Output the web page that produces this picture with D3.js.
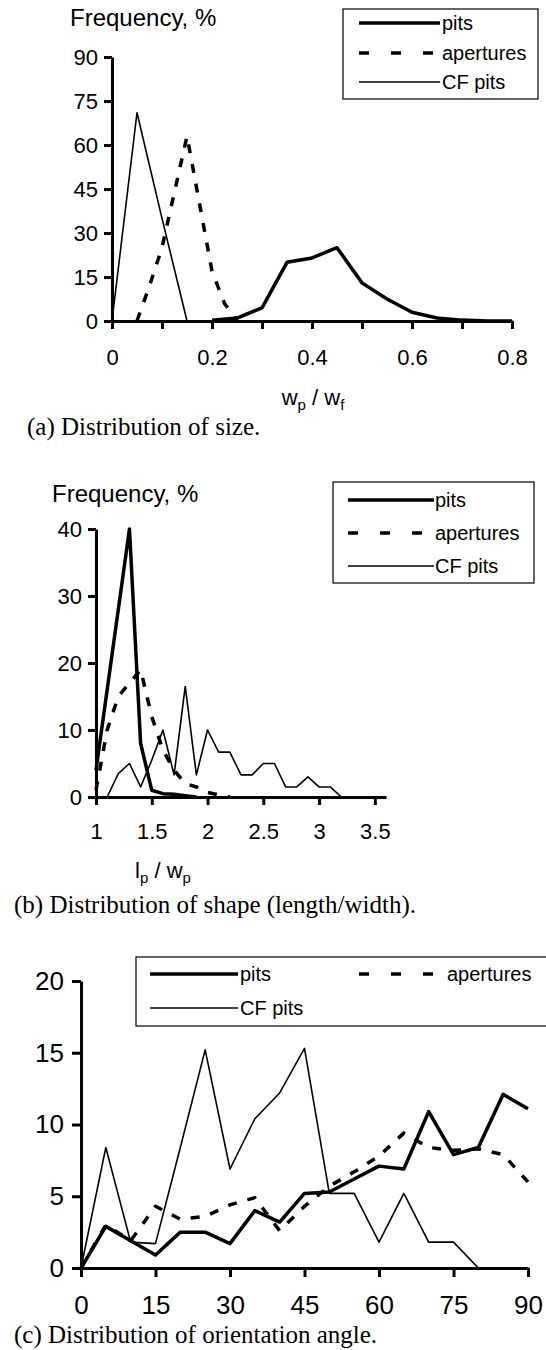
<!DOCTYPE html>
<html>
<head>
<meta charset="utf-8">
<script src="https://cdn.jsdelivr.net/npm/d3@7"></script>
<style>
  body { margin: 0; background: #fff; }
  svg { display: block; }
  .tick text { font-family: "Liberation Sans", Arial, sans-serif; fill: #000; }
</style>
</head>
<body>
<svg id="chart" width="546" height="1350"></svg>
<script>
// (a) size distribution, x = wp / wf
var pitsSizeX = [0.2, 0.25, 0.3, 0.35, 0.4, 0.45, 0.5, 0.55, 0.6, 0.65, 0.7, 0.75, 0.8];
var pitsSizeY = [0.3, 1, 4.5, 20, 21.5, 25, 13, 7.5, 3, 1, 0.3, 0, 0];
var aperturesSizeX = [0.05, 0.075, 0.1, 0.125, 0.15, 0.175, 0.2, 0.225, 0.25];
var aperturesSizeY = [0, 12, 25, 44, 63, 40, 17, 6, 0];
var cfSizeX = [0, 0.05, 0.1, 0.15];
var cfSizeY = [0, 71, 35, 0];
var sizeTicksY = [0, 15, 30, 45, 60, 75, 90];

// (b) shape distribution, x = lp / wp
var pitsShapeX = [1, 1.1, 1.2, 1.3, 1.4, 1.5, 1.6, 1.7, 1.8, 1.9];
var pitsShapeY = [4, 16, 28, 40, 8, 1, 0.5, 0.4, 0.2, 0];
var aperturesShapeX = [1, 1.1, 1.2, 1.3, 1.4, 1.5, 1.6, 1.7, 1.8, 1.9, 2, 2.1, 2.2];
var aperturesShapeY = [1, 10, 15, 17, 19, 12, 7, 4, 2, 1.5, 0.7, 0.3, 0];
var cfShapeX = [1.1, 1.2, 1.3, 1.4, 1.5, 1.6, 1.7, 1.8, 1.9, 2, 2.1, 2.2, 2.3, 2.4, 2.5, 2.6, 2.7, 2.8, 2.9, 3, 3.1, 3.2];
var cfShapeY = [0, 3.5, 5, 1.5, 5.5, 10, 3.3, 16.5, 3.3, 10, 6.7, 6.7, 3.3, 3.3, 5, 5, 1.5, 1.5, 3, 1.5, 1.5, 0];
var shapeTicksX = [1, 1.5, 2, 2.5, 3, 3.5];
var shapeTicksY = [0, 10, 20, 30, 40];

// (c) orientation angle
var angles = [0, 5, 10, 15, 20, 25, 30, 35, 40, 45, 50, 55, 60, 65, 70, 75, 80, 85, 90];
var pitsAngle = [0, 2.9, 1.9, 0.9, 2.5, 2.5, 1.7, 4.0, 3.2, 5.2, 5.3, 6.2, 7.1, 6.9, 10.9, 7.9, 8.4, 12.1, 11.1];
var aperturesAngle = [0, 3.0, 1.9, 4.3, 3.4, 3.6, 4.4, 4.9, 2.6, 4.3, 5.7, 6.7, 7.8, 9.4, 8.4, 8.2, 8.3, 7.9, 6.0];
var cfAngleX = [0, 5, 10, 15, 20, 25, 30, 35, 40, 45, 50, 55, 60, 65, 70, 75, 80];
var cfAngle = [0, 8.4, 1.8, 1.7, 8.4, 15.2, 6.9, 10.4, 12.2, 15.3, 5.2, 5.2, 1.8, 5.2, 1.8, 1.8, 0];
var angleTicksX = [0, 15, 30, 45, 60, 75, 90];
var angleTicksY = [0, 5, 10, 15, 20];

var sans = "'Liberation Sans', Arial, sans-serif";
var serif = "'Liberation Serif', 'Times New Roman', serif";
var svg = d3.select("#chart");

function zip(xs, ys) {
  return xs.map(function(x, i) { return [x, ys[i]]; });
}

var styles = {
  pits: { width: 3.5, dash: null },
  apertures: { width: 3.5, dash: "9,11" },
  cf: { width: 1.6, dash: null }
};

var drawPanel = function(p)
{
  var g = svg.append("g");
  var x = d3.scaleLinear().domain(p.xDomain).range(p.xRange);
  var y = d3.scaleLinear().domain(p.yDomain).range(p.yRange);

  var line = d3.line()
    .x(function(d) { return x(d[0]); })
    .y(function(d) { return y(d[1]); });

  p.series.forEach(function(s) {
    g.append("path")
      .datum(s.data)
      .attr("d", line)
      .attr("fill", "none")
      .attr("stroke", "#000")
      .attr("stroke-width", styles[s.key].width)
      .attr("stroke-dasharray", styles[s.key].dash)
      .attr("stroke-linejoin", "round");
  });

  var xAxis = d3.axisBottom(x)
    .tickValues(p.xTicks)
    .tickSize(p.tickLen)
    .tickSizeOuter(0)
    .tickPadding(p.xPad)
    .tickFormat(p.xFormat);
  var gx = g.append("g")
    .attr("transform", "translate(0," + p.yRange[0] + ")")
    .call(xAxis);

  var yAxis = d3.axisLeft(y)
    .tickValues(p.yTicks)
    .tickSize(p.tickLen)
    .tickSizeOuter(0)
    .tickPadding(p.yPad);
  var gy = g.append("g")
    .attr("transform", "translate(" + p.xRange[0] + ",0)")
    .call(yAxis);

  [gx, gy].forEach(function(a) {
    a.select(".domain").attr("stroke", "#000").attr("stroke-width", 3);
    a.selectAll(".tick line").attr("stroke", "#000").attr("stroke-width", 3);
    a.selectAll(".tick text").attr("font-size", p.fontSize + "px").style("font-family", sans);
  });

  // legend
  var lg = g.append("g");
  lg.append("rect")
    .attr("x", p.legend.x).attr("y", p.legend.y)
    .attr("width", p.legend.w).attr("height", p.legend.h)
    .attr("fill", "#fff").attr("stroke", "#000").attr("stroke-width", 1.2);
  p.legend.items.forEach(function(it) {
    lg.append("line")
      .attr("x1", it.x1).attr("x2", it.x2)
      .attr("y1", it.y).attr("y2", it.y)
      .attr("stroke", "#000")
      .attr("stroke-width", styles[it.key].width)
      .attr("stroke-dasharray", it.key == "apertures" ? "10,22" : null);
    lg.append("text")
      .attr("x", it.tx).attr("y", it.y)
      .attr("dy", "0.35em")
      .attr("font-family", sans)
      .attr("font-size", "20px")
      .text(it.label);
  });

  return g;
}

// ---- panel (a)
var ga = drawPanel({
  xDomain: [0, 0.8], xRange: [112, 512],
  yDomain: [0, 90], yRange: [321, 57],
  xTicks: d3.range(0, 9).map(function(i) { return i / 10; }),
  xFormat: function(d) {
    var k = Math.round(d * 10);
    if (k % 2 != 0) return "";
    return k == 0 ? "0" : d3.format(".1f")(d);
  },
  yTicks: sizeTicksY,
  tickLen: 8, xPad: 20, yPad: 6, fontSize: 22,
  series: [
    { key: "cf", data: zip(cfSizeX, cfSizeY) },
    { key: "apertures", data: zip(aperturesSizeX, aperturesSizeY) },
    { key: "pits", data: zip(pitsSizeX, pitsSizeY) }
  ],
  legend: {
    x: 343, y: 9, w: 195, h: 90,
    items: [
      { key: "pits", label: "pits", x1: 359, x2: 440, tx: 442, y: 23 },
      { key: "apertures", label: "apertures", x1: 359, x2: 433, tx: 442, y: 53 },
      { key: "cf", label: "CF pits", x1: 359, x2: 440, tx: 442, y: 82 }
    ]
  }
});

// ---- panel (b)
var gb = drawPanel({
  xDomain: [1, 3.6], xRange: [96, 386],
  yDomain: [0, 40], yRange: [797, 529],
  xTicks: shapeTicksX,
  xFormat: function(d) { return d; },
  yTicks: shapeTicksY,
  tickLen: 8, xPad: 18, yPad: 6, fontSize: 22,
  series: [
    { key: "cf", data: zip(cfShapeX, cfShapeY) },
    { key: "apertures", data: zip(aperturesShapeX, aperturesShapeY) },
    { key: "pits", data: zip(pitsShapeX, pitsShapeY) }
  ],
  legend: {
    x: 333, y: 482, w: 201, h: 101,
    items: [
      { key: "pits", label: "pits", x1: 348, x2: 434, tx: 435, y: 500 },
      { key: "apertures", label: "apertures", x1: 348, x2: 422, tx: 435, y: 533 },
      { key: "cf", label: "CF pits", x1: 348, x2: 434, tx: 435, y: 566 }
    ]
  }
});

// ---- panel (c)
var gc = drawPanel({
  xDomain: [0, 90], xRange: [81, 528],
  yDomain: [0, 20], yRange: [1268, 981],
  xTicks: angleTicksX,
  xFormat: function(d) { return d; },
  yTicks: angleTicksY,
  tickLen: 9, xPad: 19, yPad: 8, fontSize: 26,
  series: [
    { key: "cf", data: zip(cfAngleX, cfAngle) },
    { key: "apertures", data: zip(angles, aperturesAngle) },
    { key: "pits", data: zip(angles, pitsAngle) }
  ],
  legend: {
    x: 136, y: 957, w: 430, h: 69,
    items: [
      { key: "pits", label: "pits", x1: 150, x2: 238, tx: 240, y: 974 },
      { key: "apertures", label: "apertures", x1: 359, x2: 433, tx: 447, y: 974 },
      { key: "cf", label: "CF pits", x1: 150, x2: 238, tx: 240, y: 1008 }
    ]
  }
});

// titles and captions
svg.append("text").attr("x", 70).attr("y", 26)
  .attr("font-family", sans).attr("font-size", "24px").text("Frequency, %");
svg.append("text").attr("x", 52).attr("y", 502)
  .attr("font-family", sans).attr("font-size", "24px").text("Frequency, %");

var ta = svg.append("text").attr("x", 313).attr("y", 405)
  .attr("text-anchor", "middle").attr("font-family", sans).attr("font-size", "22px");
ta.append("tspan").text("w");
ta.append("tspan").attr("font-size", "15px").attr("dy", 5).text("p");
ta.append("tspan").attr("dy", -5).text(" / w");
ta.append("tspan").attr("font-size", "15px").attr("dy", 5).text("f");

var tb = svg.append("text").attr("x", 163).attr("y", 878)
  .attr("text-anchor", "middle").attr("font-family", sans).attr("font-size", "22px");
tb.append("tspan").text("l");
tb.append("tspan").attr("font-size", "15px").attr("dy", 5).text("p");
tb.append("tspan").attr("dy", -5).text(" / w");
tb.append("tspan").attr("font-size", "15px").attr("dy", 5).text("p");

var captions = [
  { t: "(a) Distribution of size.", x: 27, y: 435 },
  { t: "(b) Distribution of shape (length/width).", x: 14, y: 913 },
  { t: "(c) Distribution of orientation angle.", x: 14, y: 1343 }
];
svg.selectAll("text.caption")
  .data(captions)
  .enter()
  .append("text")
  .attr("class", "caption")
  .attr("x", function(d) { return d.x; })
  .attr("y", function(d) { return d.y; })
  .attr("font-family", serif)
  .attr("font-size", "25px")
  .text(function(d) { return d.t; });
</script>
</body>
</html>
